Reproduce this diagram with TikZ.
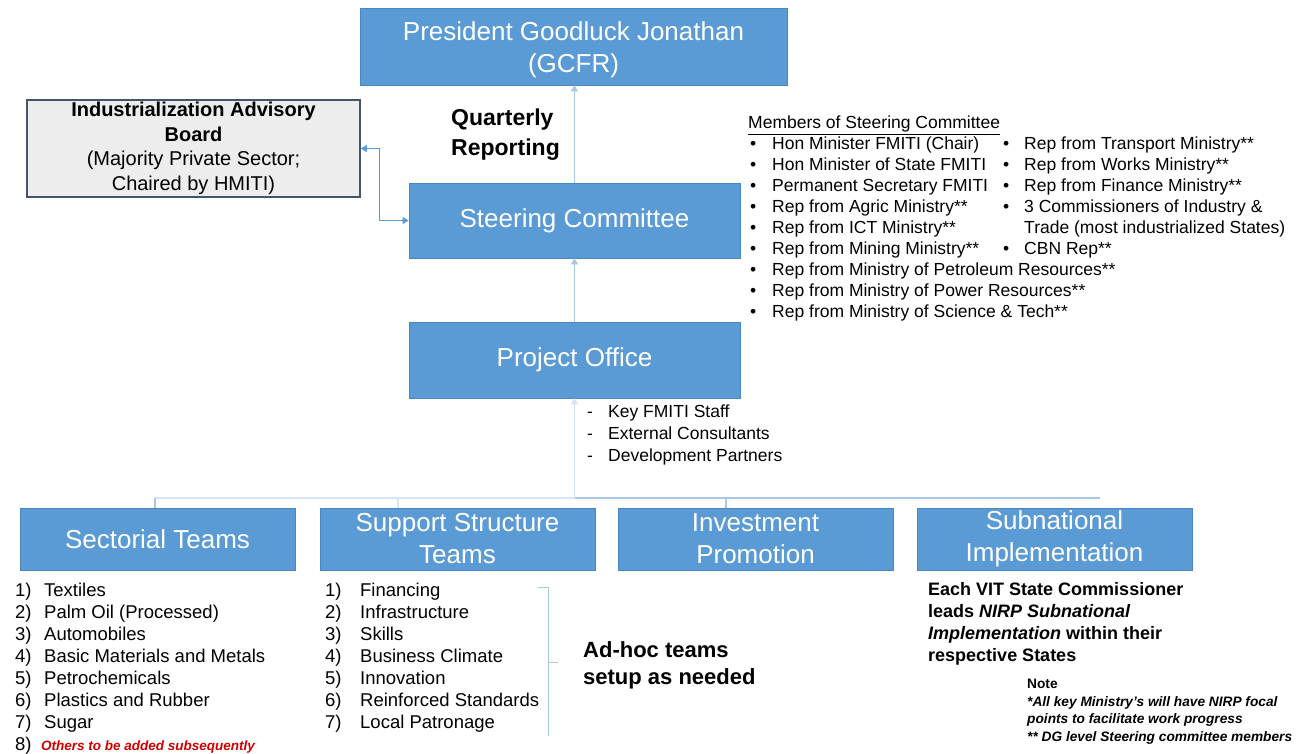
\documentclass[tikz,border=0pt]{standalone}
\usepackage{fontspec}
\setmainfont{Liberation Sans}
\usetikzlibrary{arrows.meta}
\definecolor{boxblue}{HTML}{5B9BD5}
\definecolor{boxedge}{HTML}{4A86C0}
\definecolor{conncol}{HTML}{A9C6E4}
\definecolor{connlight}{HTML}{D5E5F4}
\definecolor{advedge}{HTML}{44546A}
\definecolor{advfill}{HTML}{EDEDED}
\definecolor{advarrow}{HTML}{5B9BD5}
\definecolor{notered}{HTML}{D00000}
\begin{document}
\begin{tikzpicture}[x=1pt,y=-1pt,
  bluebox/.style={draw=boxedge, fill=boxblue, line width=0.8pt, text=white, align=center,
    inner sep=0pt, font=\fontsize{26}{32}\selectfont},
  boxtext/.style={text=white, align=center, inner sep=0pt, font=\fontsize{26}{32}\selectfont},
  bottombox/.style={bluebox, minimum width=275pt, minimum height=62pt},
  listtext/.style={anchor=north west, inner sep=0pt, align=left},
  conn/.style={draw=conncol, line width=1.2pt},
  connfaint/.style={draw=connlight, line width=1.2pt},
  tip/.style={-{Triangle[width=7pt,length=6pt]}}
]
\useasboundingbox (0,0) rectangle (1303,753);
\fill[white] (0,0) rectangle (1303,753);

% main boxes
\node[bluebox, minimum width=427pt, minimum height=77pt] (pres) at (573.5,46.5) {};
\node[boxtext] (prestext) at ([yshift=-3pt]pres.center) {President Goodluck Jonathan\\(GCFR)};
\node[bluebox, minimum width=331pt, minimum height=75pt] (steer) at (574.5,220.5) {Steering Committee};
\node[bluebox, minimum width=331pt, minimum height=76pt] (proj) at (574.5,360) {Project Office};
\node[draw=advedge, fill=advfill, line width=1.6pt, minimum width=333pt, minimum height=97pt,
  inner sep=0pt, align=center, font=\fontsize{20}{24.5}\selectfont]
  (adv) at (193.5,148.5) {\textbf{Industrialization Advisory}\\\textbf{Board}\\(Majority Private Sector;\\Chaired by HMITI)};

\node[bottombox] (sect) at (157.5,539) {Sectorial Teams};
\node[bottombox] (supp) at (457.5,539) {Support Structure\\Teams};
\node[bottombox] (inv)  at (755.5,539) {Investment\\Promotion};
\node[bottombox] (subn) at (1054.5,539) {Subnational\\Implementation};

% connectors
\draw[conn, tip] (steer.north) -- (steer.north |- pres.south);
\draw[conn, tip] (proj.north) -- (proj.north |- steer.south);
\draw[draw=advarrow, line width=1.2pt, {Triangle[width=7pt,length=6pt]}-{Triangle[width=7pt,length=6pt]}]
  (steer.west) -- ++(-29,0) |- (adv.east);

\coordinate (busL) at (155,498);
\coordinate (busM) at (574.5,498);
\coordinate (busR) at (1100,498);
\coordinate (j1) at (398,498);
\coordinate (j2) at (726,498);
\draw[connfaint, {Triangle[width=7pt,length=6pt]}-] (proj.south) -- (busM);
\draw[connfaint] (busL) -- (busM);
\draw[conn] (busM) -- (busR);
\draw[conn] (busL) -- (busL |- sect.north);
\draw[connfaint] (j1) -- (j1 |- supp.north);
\draw[conn] (j2) -- (j2 |- inv.north);

% quarterly
\node[listtext, font=\bfseries\fontsize{23}{30}\selectfont] (qr) at (451,109) {Quarterly\\Reporting};

% members
\node[listtext, font=\fontsize{17.5}{18}\selectfont] (memh) at (748,116) {\underline{Members of Steering Committee}};
\node[listtext, font=\fontsize{17.5}{21}\selectfont] (meml) at (750,137) {%
\makebox[22pt][l]{•}Hon Minister FMITI (Chair)\\
\makebox[22pt][l]{•}Hon Minister of State FMITI\\
\makebox[22pt][l]{•}Permanent Secretary FMITI\\
\makebox[22pt][l]{•}Rep from Agric Ministry**\\
\makebox[22pt][l]{•}Rep from ICT Ministry**\\
\makebox[22pt][l]{•}Rep from Mining Ministry**\\
\makebox[22pt][l]{•}Rep from Ministry of Petroleum Resources**\\
\makebox[22pt][l]{•}Rep from Ministry of Power Resources**\\
\makebox[22pt][l]{•}Rep from Ministry of Science \& Tech**};
\node[listtext, font=\fontsize{17.5}{21}\selectfont] (memr) at (1003,137) {%
\makebox[21pt][l]{•}Rep from Transport Ministry**\\
\makebox[21pt][l]{•}Rep from Works Ministry**\\
\makebox[21pt][l]{•}Rep from Finance Ministry**\\
\makebox[21pt][l]{•}3 Commissioners of Industry \&\\
\hspace*{21pt}Trade (most industrialized States)\\
\makebox[21pt][l]{•}CBN Rep**};

% project office staff
\node[listtext, font=\fontsize{17.5}{22}\selectfont] (pob) at (587,405) {%
\makebox[21pt][l]{-}Key FMITI Staff\\
\makebox[21pt][l]{-}External Consultants\\
\makebox[21pt][l]{-}Development Partners};

% sectorial list
\node[listtext, font=\fontsize{18.5}{22}\selectfont] (sectl) at (15,583) {%
\makebox[29pt][l]{1)}Textiles\\
\makebox[29pt][l]{2)}Palm Oil (Processed)\\
\makebox[29pt][l]{3)}Automobiles\\
\makebox[29pt][l]{4)}Basic Materials and Metals\\
\makebox[29pt][l]{5)}Petrochemicals\\
\makebox[29pt][l]{6)}Plastics and Rubber\\
\makebox[29pt][l]{7)}Sugar\\
\makebox[26pt][l]{8)}{\color{notered}\bfseries\itshape\fontsize{13.5}{22}\selectfont Others to be added subsequently}};

% support list
\node[listtext, font=\fontsize{18.5}{22}\selectfont] (suppl) at (325,583) {%
\makebox[35pt][l]{1)}Financing\\
\makebox[35pt][l]{2)}Infrastructure\\
\makebox[35pt][l]{3)}Skills\\
\makebox[35pt][l]{4)}Business Climate\\
\makebox[35pt][l]{5)}Innovation\\
\makebox[35pt][l]{6)}Reinforced Standards\\
\makebox[35pt][l]{7)}Local Patronage};
\draw[conn, line width=1pt] (538,587) -- (548,587) -- (548,736);
\draw[conn, line width=1pt] (548,662) -- (558,662);

% ad-hoc
\node[listtext, font=\bfseries\fontsize{22}{27}\selectfont] (adhoc) at (583,641) {Ad-hoc teams\\setup as needed};

% subnational text
\node[listtext, font=\bfseries\fontsize{18}{22}\selectfont] (subt) at (928,582) {%
Each VIT State Commissioner\\
leads \textit{NIRP Subnational}\\
\textit{Implementation} within their\\
respective States};

% note
\node[listtext, font=\bfseries\itshape\fontsize{13.7}{17.5}\selectfont] (note) at (1027,679) {%
{\upshape Note}\\
*All key Ministry's will have NIRP focal\\
points to facilitate work progress\\
** DG level Steering committee members};
\end{tikzpicture}
\end{document}
